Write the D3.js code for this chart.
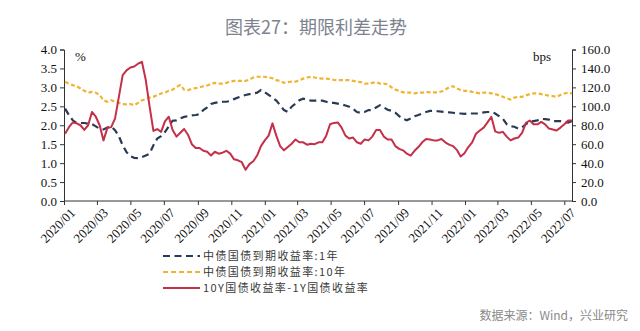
<!DOCTYPE html>
<html>
<head>
<meta charset="utf-8">
<script src="https://cdn.jsdelivr.net/npm/d3@7/dist/d3.min.js"></script>
<style>
  html, body { margin: 0; padding: 0; background: #fff; }
  svg { display: block; }
</style>
</head>
<body>
<svg id="chart" width="640" height="331"></svg>
<script>
// Weekly observations starting 2020-01-03
const firstObs = new Date(2020, 0, 3);

// 中债国债到期收益率:1年 (%)
const yield1Y = [
  2.44, 2.27, 2.13, 2.06, 2.06, 2.06, 2.04, 2.03, 1.97, 1.91,
  1.89, 1.94, 1.97, 1.87, 1.71, 1.47, 1.29, 1.18, 1.14, 1.13,
  1.16, 1.20, 1.25, 1.47, 1.65, 1.71, 1.82, 1.97, 2.12, 2.13,
  2.18, 2.22, 2.24, 2.26, 2.27, 2.29, 2.40, 2.47, 2.56, 2.59,
  2.61, 2.62, 2.62, 2.64, 2.69, 2.73, 2.77, 2.80, 2.82, 2.84,
  2.86, 2.93, 2.87, 2.80, 2.73, 2.65, 2.53, 2.40, 2.35, 2.49,
  2.57, 2.66, 2.70, 2.68, 2.65, 2.65, 2.65, 2.65, 2.62, 2.59,
  2.59, 2.57, 2.55, 2.52, 2.49, 2.43, 2.35, 2.33, 2.35, 2.40,
  2.40, 2.47, 2.53, 2.47, 2.41, 2.38, 2.33, 2.24, 2.17, 2.13,
  2.18, 2.24, 2.27, 2.31, 2.35, 2.38, 2.38, 2.37, 2.36, 2.35,
  2.34, 2.33, 2.31, 2.31, 2.30, 2.31, 2.31, 2.31, 2.31, 2.34,
  2.35, 2.35, 2.31, 2.24, 2.17, 2.03, 1.97, 1.96, 1.91, 1.94,
  2.03, 2.09, 2.11, 2.13, 2.17, 2.16, 2.15, 2.11, 2.11, 2.11,
  2.09, 2.07, 2.11
];

// 中债国债到期收益率:10年 (%)
const yield10Y = [
  3.15, 3.10, 3.06, 3.03, 2.97, 2.91, 2.86, 2.88, 2.86, 2.80,
  2.66, 2.62, 2.66, 2.62, 2.59, 2.56, 2.55, 2.56, 2.53, 2.59,
  2.66, 2.68, 2.73, 2.75, 2.80, 2.84, 2.86, 2.91, 2.94, 3.01,
  3.06, 2.94, 2.93, 2.96, 2.98, 3.00, 3.03, 3.05, 3.09, 3.12,
  3.10, 3.10, 3.12, 3.15, 3.17, 3.17, 3.17, 3.17, 3.21, 3.26,
  3.28, 3.28, 3.28, 3.26, 3.24, 3.19, 3.17, 3.12, 3.14, 3.15,
  3.15, 3.19, 3.23, 3.26, 3.28, 3.26, 3.24, 3.23, 3.23, 3.22,
  3.20, 3.19, 3.19, 3.19, 3.19, 3.17, 3.15, 3.14, 3.10, 3.10,
  3.12, 3.14, 3.10, 3.10, 3.08, 3.00, 2.94, 2.91, 2.87, 2.86,
  2.86, 2.84, 2.86, 2.86, 2.88, 2.87, 2.87, 2.87, 2.89, 2.94,
  3.00, 3.03, 2.97, 2.93, 2.91, 2.91, 2.88, 2.86, 2.84, 2.86,
  2.86, 2.84, 2.82, 2.79, 2.75, 2.71, 2.68, 2.73, 2.75, 2.75,
  2.79, 2.82, 2.84, 2.84, 2.82, 2.80, 2.78, 2.77, 2.75, 2.80,
  2.84, 2.86, 2.84
];

// 10Y国债收益率-1Y国债收益率 (bps)
const termSpread = [
  71, 78, 83, 82, 80, 75, 80, 94, 89, 80,
  64, 77, 78, 87, 110, 133, 138, 141, 142, 145,
  147, 128, 100, 74, 76, 73, 84, 89, 75, 68,
  72, 76, 70, 60, 56, 56, 53, 52, 48, 52,
  50, 51, 53, 50, 44, 43, 41, 33, 39, 42,
  48, 58, 64, 69, 82, 69, 58, 53.5, 57, 60.5,
  65, 62, 62, 59.5, 60.5, 60, 62, 62, 69, 81,
  82.5, 83, 77.5, 69, 66, 67, 62, 60.5, 65, 64,
  68, 75, 75, 68, 65, 65, 58, 55, 53.5, 50,
  48, 53, 57, 62, 65.5, 65, 64, 64, 65.5, 62,
  59.5, 58, 54, 47, 50.5, 57, 62, 71, 74.5, 77.5,
  83, 89, 73.5, 72, 73, 68, 64, 66, 67, 72,
  82.5, 85, 81, 81, 83.5, 81, 76.5, 75.5, 74.5, 77.5,
  81, 85, 85
];

const leftTicks = [0, 0.5, 1, 1.5, 2, 2.5, 3, 3.5, 4];
const rightTicks = [0, 20, 40, 60, 80, 100, 120, 140, 160];

const titleText = "图表27：期限利差走势";
const sourceText = "数据来源：Wind，兴业研究";
const legendLabels = ["中债国债到期收益率:1年", "中债国债到期收益率:10年", "10Y国债收益率-1Y国债收益率"];

const obsDates = yield1Y.map((_, i) => d3.timeDay.offset(firstObs, 7 * i));

const C_NAVY = "#2a3a56";
const C_GOLD = "#f0b530";
const C_RED = "#c52f48";
const SERIF = "'Liberation Serif','Times New Roman',serif";
const CJK = "'Noto Sans CJK SC','Noto Sans',sans-serif";

const svg = d3.select("#chart");

const plot = { left: 64, right: 572, top: 49.5, bottom: 201 };

const x = d3.scaleTime()
  .domain([new Date(2020, 0, 1), new Date(2022, 6, 15)])
  .range([plot.left, plot.right]);
const yL = d3.scaleLinear().domain([0, 4]).range([plot.bottom, plot.top]);
const yR = d3.scaleLinear().domain([0, 160]).range([plot.bottom, plot.top]);

// Title
svg.append("text")
  .attr("x", 316).attr("y", 34)
  .attr("text-anchor", "middle")
  .attr("font-family", CJK)
  .attr("font-size", 18)
  .attr("fill", "#7d838e")
  .text(titleText);

// Axes
const axisColor = "#333";
const gL = svg.append("g")
  .attr("transform", `translate(${plot.left},0)`)
  .call(d3.axisLeft(yL).tickValues(leftTicks).tickFormat(d3.format(".1f")).tickSize(4).tickPadding(3));
const gR = svg.append("g")
  .attr("transform", `translate(${plot.right},0)`)
  .call(d3.axisRight(yR).tickValues(rightTicks).tickFormat(d3.format(".1f")).tickSize(4).tickPadding(5));
const gX = svg.append("g")
  .attr("transform", `translate(0,${plot.bottom})`)
  .call(d3.axisBottom(x).ticks(d3.timeMonth.every(2)).tickFormat(d3.timeFormat("%Y/%m")).tickSize(4));

[gL, gR, gX].forEach(g => {
  g.selectAll("path.domain").attr("stroke", axisColor).attr("stroke-width", 1);
  g.selectAll(".tick line").attr("stroke", axisColor);
  g.selectAll(".tick text")
    .attr("font-family", SERIF)
    .attr("font-size", 13)
    .attr("fill", "#111");
});
gX.select("path.domain").attr("d", `M${plot.left},0H${plot.right}`);
gX.selectAll(".tick text")
  .attr("font-size", 13)
  .attr("text-anchor", "end")
  .attr("transform", "translate(6,7) rotate(-45)")
  .attr("dy", "0.6em")
  .attr("dx", "0")
  .attr("y", 0);

// Unit labels
svg.append("text").attr("x", 75).attr("y", 61)
  .attr("font-family", SERIF).attr("font-size", 13).attr("fill", "#111").text("%");
svg.append("text").attr("x", 533).attr("y", 61)
  .attr("font-family", SERIF).attr("font-size", 13).attr("fill", "#111").text("bps");

// Series
const lineL = d3.line().x((d, i) => x(obsDates[i])).y(d => yL(d));
const lineR = d3.line().x((d, i) => x(obsDates[i])).y(d => yR(d));

svg.append("path").datum(yield10Y)
  .attr("d", lineL).attr("fill", "none")
  .attr("stroke", C_GOLD).attr("stroke-width", 2.2)
  .attr("stroke-dasharray", "4,2.5");

svg.append("path").datum(yield1Y)
  .attr("d", lineL).attr("fill", "none")
  .attr("stroke", C_NAVY).attr("stroke-width", 2.2)
  .attr("stroke-dasharray", "7,4.5");

svg.append("path").datum(termSpread)
  .attr("d", lineR).attr("fill", "none")
  .attr("stroke", C_RED).attr("stroke-width", 2)
  .attr("stroke-linejoin", "round");

// Legend
const legend = svg.append("g");
const legendStyles = [
  { color: C_NAVY, dash: "7,4.5", width: 2.2 },
  { color: C_GOLD, dash: "5,3", width: 2.2 },
  { color: C_RED, dash: null, width: 2.2 }
];
legendLabels.forEach((label, i) => {
  const yy = 256 + i * 16;
  legend.append("line")
    .attr("x1", 163).attr("x2", 200).attr("y1", yy).attr("y2", yy)
    .attr("stroke", legendStyles[i].color)
    .attr("stroke-width", legendStyles[i].width)
    .attr("stroke-dasharray", legendStyles[i].dash);
  legend.append("text")
    .attr("x", 203).attr("y", yy + 4)
    .attr("font-family", CJK).attr("font-size", 11)
    .attr("letter-spacing", 1.4)
    .attr("fill", "#3a3a3a")
    .text(label);
});

// Source note
svg.append("text")
  .attr("x", 628).attr("y", 320)
  .attr("text-anchor", "end")
  .attr("font-family", CJK).attr("font-size", 12)
  .attr("fill", "#8a8a8a")
  .text(sourceText);
</script>
</body>
</html>
